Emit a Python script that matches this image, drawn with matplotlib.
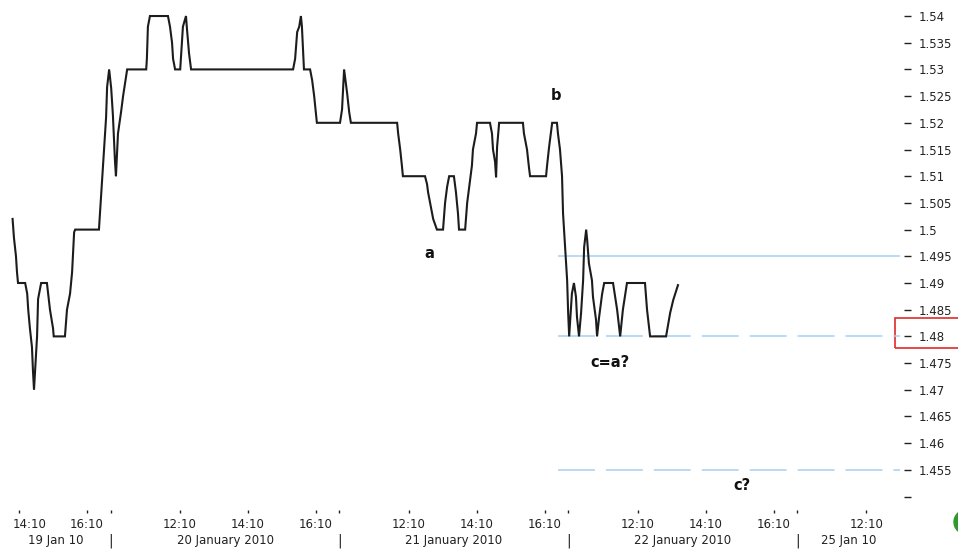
import matplotlib
matplotlib.use("Agg")
import matplotlib.pyplot as plt
from matplotlib.patches import Rectangle, Ellipse
from matplotlib.transforms import blended_transform_factory, ScaledTranslation

# ---------------- data ----------------
# x: trading hours elapsed since 19 Jan 2010 14:10 (overnight gaps removed)
price_t = [-0.19, -0.15, -0.09, -0.06, -0.03, 0.18, 0.24, 0.27, 0.32, 0.38, 0.41, 0.44,
           0.53, 0.56, 0.65, 0.82, 0.91, 1.00, 1.02, 1.35, 1.41, 1.50, 1.56, 1.62, 1.65,
           2.35, 2.44, 2.50, 2.56, 2.59, 2.65, 2.71, 2.76, 2.82, 2.85, 2.91, 3.00, 3.06,
           3.18, 3.21, 3.74, 3.76, 3.79, 3.85, 4.38, 4.44, 4.50, 4.53, 4.59, 4.74, 4.79,
           4.82, 4.91, 4.94, 5.00, 5.06, 8.06, 8.12, 8.18, 8.24, 8.29, 8.32, 8.38, 8.56,
           8.62, 8.68, 8.76, 9.44, 9.50, 9.56, 9.65, 9.71, 9.76, 11.12, 11.15, 11.21,
           11.26, 11.29, 11.94, 12.00, 12.03, 12.12, 12.18, 12.29, 12.47, 12.53, 12.59,
           12.65, 12.79, 12.85, 12.91, 12.94, 13.12, 13.18, 13.26, 13.32, 13.35, 13.44,
           13.47, 13.85, 13.91, 13.94, 14.00, 14.03, 14.06, 14.12, 14.82, 14.85, 14.94,
           15.00, 15.03, 15.50, 15.53, 15.59, 15.68, 15.82, 15.85, 15.91, 15.97, 16.00,
           16.06, 16.12, 16.15, 16.18, 16.26, 16.32, 16.38, 16.41, 16.47, 16.53, 16.59,
           16.62, 16.68, 16.71, 16.76, 16.85, 16.88, 16.97, 17.00, 17.06, 17.15, 17.21,
           17.47, 17.59, 17.68, 17.76, 17.88, 18.41, 18.47, 18.56, 19.03, 19.15, 19.24,
           19.38]
price_v = [1.502, 1.4985, 1.495, 1.492, 1.490, 1.490, 1.488, 1.485, 1.4815, 1.478, 1.4735, 1.470,
           1.480, 1.487, 1.490, 1.490, 1.485, 1.4815, 1.480, 1.480, 1.485, 1.488, 1.492, 1.4995, 1.500,
           1.500, 1.509, 1.515, 1.521, 1.5267, 1.530, 1.5265, 1.5215, 1.513, 1.510, 1.518, 1.522, 1.525,
           1.530, 1.530, 1.530, 1.532, 1.538, 1.540, 1.540, 1.538, 1.535, 1.532, 1.530, 1.530, 1.535,
           1.538, 1.540, 1.5375, 1.533, 1.530, 1.530, 1.532, 1.537, 1.538, 1.540, 1.538, 1.530, 1.530,
           1.528, 1.525, 1.520, 1.520, 1.5225, 1.530, 1.5255, 1.522, 1.520, 1.520, 1.518, 1.515,
           1.512, 1.510, 1.510, 1.5085, 1.507, 1.504, 1.502, 1.500, 1.500, 1.505, 1.508,
           1.510, 1.510, 1.507, 1.503, 1.500, 1.500, 1.505, 1.509, 1.512, 1.515, 1.518,
           1.520, 1.520, 1.518, 1.515, 1.5127, 1.5098, 1.5155, 1.520, 1.520, 1.518, 1.515,
           1.5115, 1.510, 1.510, 1.512, 1.5155, 1.520, 1.520, 1.518, 1.515, 1.510, 1.503,
           1.4967, 1.4905, 1.4844, 1.480, 1.488, 1.490, 1.4874, 1.4836, 1.480, 1.4844, 1.4905,
           1.4967, 1.500, 1.498, 1.4937, 1.4905, 1.4874, 1.4831, 1.480, 1.4836, 1.488, 1.490,
           1.490, 1.485, 1.480, 1.485, 1.490, 1.490, 1.485, 1.480, 1.480, 1.4844, 1.4868,
           1.4896]

# horizontal reference levels
level_solid = 1.495
levels_dashed = [1.480, 1.455]
levels_start = 15.85

# annotations (label, t, value)
notes = [("b", 15.80, 1.5252), ("a", 12.06, 1.4956), ("c=a?", 17.38, 1.4752), ("c?", 21.26, 1.4521)]

# session model for the time axis
session_open = 10.13
session_close = 16.86
first_time = 14 + 10 / 60
day_labels = ["19 Jan 10", "20 January 2010", "21 January 2010", "22 January 2010", "25 Jan 10"]
time_ticks = [(0, "14:10"), (0, "16:10"), (1, "12:10"), (1, "14:10"), (1, "16:10"),
              (2, "12:10"), (2, "14:10"), (2, "16:10"), (3, "12:10"), (3, "14:10"),
              (3, "16:10"), (4, "12:10")]

ytick_vals = [1.45, 1.455, 1.46, 1.465, 1.47, 1.475, 1.48, 1.485, 1.49, 1.495, 1.5,
              1.505, 1.51, 1.515, 1.52, 1.525, 1.53, 1.535, 1.54]
ytick_labels = ["", "1.455", "1.46", "1.465", "1.47", "1.475", "1.48", "1.485", "1.49",
                "1.495", "1.5", "1.505", "1.51", "1.515", "1.52", "1.525", "1.53", "1.535", "1.54"]


def day_close(k):
    return (session_close - first_time) + k * (session_close - session_open)


def tpos(k, hhmm):
    h, m = hhmm.split(":")
    hours = int(h) + int(m) / 60
    if k == 0:
        return hours - first_time
    return day_close(k - 1) + (hours - session_open)


# ---------------- figure ----------------
W, H = 958, 553
fig = plt.figure(figsize=(W / 100, H / 100), dpi=100)
ax = fig.add_axes([0, (H - 500) / H, 900 / W, 500 / H])

xmin, xmax = -0.56, 25.91
ax.set_xlim(xmin, xmax)
ax.set_ylim(1.44936, 1.54300)

line_blue = "#a6cff2"
ax.plot([levels_start, xmax], [level_solid, level_solid], color=line_blue, lw=1.1, solid_capstyle="butt")
for lv in levels_dashed:
    ln, = ax.plot([levels_start, xmax], [lv, lv], color=line_blue, lw=1.1)
    ln.set_dashes([26.6 / 1.1, 7.9 / 1.1])

ax.plot(price_t, price_v, color="#1c1c1c", lw=1.5, solid_joinstyle="miter")

for txt, t, v in notes:
    ax.text(t, v, txt, ha="center", va="center", fontsize=10.5, fontweight="bold", color="#111111")

for s in ax.spines.values():
    s.set_visible(False)
ax.spines["right"].set_position(("outward", 3))
ax.spines["bottom"].set_position(("outward", 7))

ax.yaxis.tick_right()
ax.set_yticks(ytick_vals)
ax.set_yticklabels(ytick_labels)
ax.tick_params(axis="y", length=5, width=1.0, pad=5.5, labelsize=8.5, colors="#222222")

major = [tpos(k, s) for k, s in time_ticks]
ax.set_xticks(major)
ax.set_xticklabels([s for _, s in time_ticks])
boundaries = [day_close(k) for k in range(4)]
ax.set_xticks(boundaries, minor=True)
ax.tick_params(axis="x", which="both", length=2.2, width=1.0, pad=3.5, labelsize=8.5,
               colors="#222222", direction="out")
# first time label is pushed right in the original so it is not cut at the edge
first_lab = ax.get_xticklabels()[0]
first_lab.set_transform(first_lab.get_transform() + ScaledTranslation(11 / 100, 0, fig.dpi_scale_trans))

# date row
edges = [xmin] + boundaries + [xmax]
for i, lab in enumerate(day_labels):
    c = 0.5 * (edges[i] + edges[i + 1])
    ax.annotate(lab, xy=(c, 0), xycoords=("data", "axes fraction"), xytext=(0, -29.5),
                textcoords="offset points", ha="center", va="center", fontsize=8.5, color="#222222",
                annotation_clip=False)
for b in boundaries:
    ax.annotate("|", xy=(b, 0), xycoords=("data", "axes fraction"), xytext=(0, -29.5),
                textcoords="offset points", ha="center", va="center", fontsize=10, color="#222222",
                annotation_clip=False)

# red highlight box round the 1.48 label
tr = blended_transform_factory(fig.transFigure, ax.transData)
ax.add_patch(Rectangle((895 / W, 1.4778), 0.08, 0.0056, transform=tr, fill=False,
                       edgecolor="#e02a2a", lw=1.2, clip_on=False))

# green marker at bottom-right corner
fig.add_artist(Ellipse((966 / W, (H - 522) / H), 24 / W, 24 / H, color="#2e9a2e"))

fig.savefig("out.png", dpi=100)
